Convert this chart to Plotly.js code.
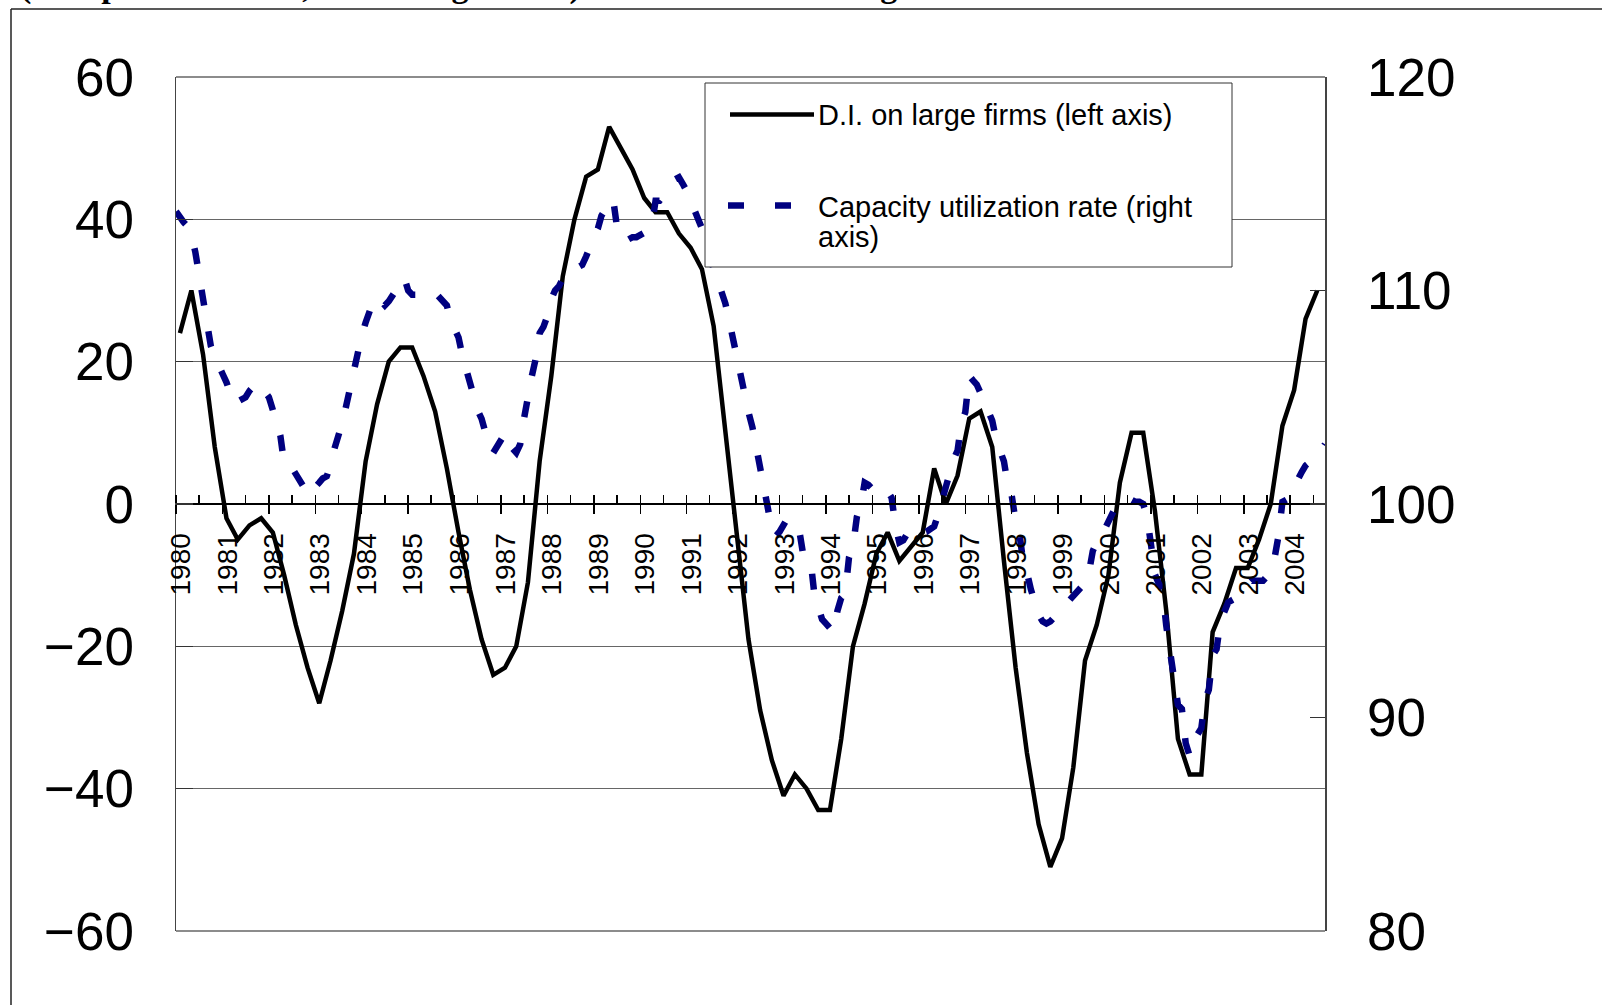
<!DOCTYPE html>
<html>
<head>
<meta charset="utf-8">
<script src="https://cdn.plot.ly/plotly-3.0.1.min.js"></script>
<style>
  html, body { margin: 0; padding: 0; background: #fff; }
  #plot { width: 1602px; height: 1005px; }
</style>
</head>
<body>
<div id="plot"></div>
<script>
// Tankan D.I. (large manufacturing firms), quarterly, Feb 1980 .. Aug 2004
let diStart = [1980, 2];
let diValues = [
  24, 30, 21, 8,        // 1980
  -2, -5, -3, -2,       // 1981
  -4, -10, -17, -23,    // 1982
  -28, -22, -15, -7,    // 1983
  6, 14, 20, 22,        // 1984
  22, 18, 13, 5,        // 1985
  -4, -12, -19, -24,    // 1986
  -23, -20, -11, 6,     // 1987
  18, 32, 40, 46,       // 1988
  47, 53, 50, 47,       // 1989
  43, 41, 41, 38,       // 1990
  36, 33, 25, 10,       // 1991
  -5, -19, -29, -36,    // 1992
  -41, -38, -40, -43,   // 1993
  -43, -33, -20, -14,   // 1994
  -7, -4, -8, -6,       // 1995
  -4, 5, 0, 4,          // 1996
  12, 13, 8, -8,        // 1997
  -23, -35, -45, -51,   // 1998
  -47, -37, -22, -17,   // 1999
  -10, 3, 10, 10,       // 2000
  -1, -15, -33, -38,    // 2001
  -38, -18, -14, -9,    // 2002
  -9, -5, 0, 11,        // 2003
  16, 26, 30            // 2004
];

// capacity utilization rate, monthly, Jan 1980 .. Oct 2004
let cuStart = [1980, 1];
let cuValues = [
  113.7, 113.4, 113.2, 113.0, 112.6, 111.8, 110.8, 109.6, 108.3, 107.4, 106.9, 106.4,  // 1980
  106.1, 105.7, 105.3, 104.7, 104.8, 104.9, 105.0, 105.3, 105.5, 105.7, 105.5, 105.3,  // 1981
  105.0, 104.4, 103.9, 103.2, 101.9, 101.8, 101.7, 101.4, 101.1, 100.8, 100.5, 100.4,  // 1982
  100.8, 101.0, 101.2, 101.3, 101.8, 102.6, 103.1, 103.8, 104.6, 105.4, 106.4, 107.2,  // 1983
  107.9, 108.5, 109.0, 109.5, 109.7, 109.5, 109.3, 109.5, 109.8, 110.0, 110.4, 110.6,  // 1984
  110.0, 109.8, 109.8, 109.9, 110.0, 110.0, 110.0, 109.9, 109.7, 109.6, 109.3, 108.6,  // 1985
  108.2, 107.8, 107.0, 106.3, 105.8, 105.0, 104.4, 104.0, 103.2, 102.7, 102.4, 102.7,  // 1986
  103.0, 103.3, 103.3, 102.6, 102.4, 102.8, 104.0, 105.2, 106.0, 106.8, 108.0, 108.3,  // 1987
  108.8, 109.6, 110.0, 110.2, 110.6, 110.9, 111.0, 111.0, 111.1, 111.2, 111.6, 112.1,  // 1988
  112.5, 112.9, 113.5, 113.8, 114.1, 114.3, 113.0, 112.5, 112.3, 112.4, 112.5, 112.5,  // 1989
  112.6, 112.7, 112.8, 113.0, 114.2, 114.2, 114.4, 114.6, 114.9, 115.2, 115.3, 115.0,  // 1990
  114.7, 114.3, 113.8, 113.4, 112.9, 112.3, 111.6, 111.0, 110.5, 110.0, 109.4, 108.6,  // 1991
  107.7, 106.7, 106.0, 105.0, 104.3, 103.6, 102.7, 102.0, 100.9, 99.8, 98.8, 98.5,     // 1992
  98.7, 99.1, 99.3, 99.2, 99.0, 98.9, 97.8, 97.6, 97.4, 95.8, 95.2, 94.6,              // 1993
  94.4, 94.2, 94.0, 95.0, 95.6, 95.8, 97.5, 98.0, 99.4, 99.9, 101.0, 100.9,            // 1994
  100.7, 100.5, 100.6, 100.7, 100.6, 100.3, 99.0, 98.2, 98.3, 98.6, 98.9, 98.8,        // 1995
  98.7, 98.65, 98.7, 98.8, 98.95, 99.5, 100.2, 100.8, 101.5, 102.1, 102.5, 103.8,      // 1996
  104.3, 106.0, 105.8, 105.6, 105.2, 104.7, 104.3, 103.9, 103.0, 102.4, 102.0, 100.9,  // 1997
  100.4, 99.2, 98.7, 97.3, 96.8, 96.0, 95.3, 94.8, 94.5, 94.4, 94.5, 94.7,             // 1998
  94.9, 95.1, 95.3, 95.5, 95.7, 95.9, 96.1, 96.3, 96.8, 97.8, 98.2, 98.4,              // 1999
  98.8, 99.2, 99.6, 99.9, 100.2, 100.2, 100.2, 100.2, 100.1, 100.1, 100.0, 99.4,       // 2000
  98.1, 96.7, 96.3, 96.0, 94.3, 93.0, 92.2, 90.6, 90.4, 88.8, 88.2, 88.5,              // 2001
  89.2, 89.5, 90.8, 91.3, 92.9, 93.2, 94.5, 95.0, 95.4, 95.5, 95.6, 95.9,              // 2002
  96.1, 96.3, 96.4, 96.4, 96.4, 96.4, 96.6, 96.8, 97.5, 98.5, 100.1, 100.2,            // 2003
  100.3, 100.8, 101.2, 101.5, 101.8, 102.0, 102.1, 102.2, 102.5, 102.8                 // 2004
];

let diName = 'D.I. on large firms (left axis)';
let cuNameLines = ['Capacity utilization rate (right', 'axis)'];
let headText = '(Comparative table, DI on large firms) in the manufacturing sector';

// page geometry
let W = 1602, H = 1005;
let M = { l: 176, r: 277, t: 77, b: 74 };
let PW = W - M.l - M.r;
let PH = H - M.t - M.b;
let px = x => (x - M.l) / PW;
let py = y => (H - M.b - y) / PH;

function monthDates(start, n, step) {
  let out = [];
  for (let i = 0; i < n; i++) {
    let m = (start[1] - 1) + i * step;
    let y = start[0] + Math.floor(m / 12);
    let mm = (m % 12) + 1;
    out.push(y + '-' + (mm < 10 ? '0' : '') + mm + '-01');
  }
  return out;
}

let diDates = monthDates(diStart, diValues.length, 3);
let cuDates = monthDates(cuStart, cuValues.length, 1);

let tickFont = { family: 'Liberation Sans, Arial, sans-serif', size: 53, color: '#000' };
let yearFont = { family: 'Liberation Sans, Arial, sans-serif', size: 28, color: '#000' };
let legendFont = { family: 'Liberation Sans, Arial, sans-serif', size: 29, color: '#000' };

let data = [
  {
    x: diDates, y: diValues, name: diName,
    type: 'scatter', mode: 'lines',
    line: { color: '#000000', width: 4.5 },
    hoverinfo: 'skip'
  },
  {
    x: cuDates, y: cuValues, name: cuNameLines.join(' '), yaxis: 'y2',
    type: 'scatter', mode: 'lines',
    line: { color: '#000080', width: 6.5, dash: '16px,26px' },
    hoverinfo: 'skip'
  }
];

let legendLabel = (text, y) => ({
  xref: 'paper', yref: 'paper', x: px(816), y: py(y),
  xanchor: 'left', yanchor: 'middle', text: text, showarrow: false, font: legendFont
});

let layout = {
  width: W, height: H,
  margin: M,
  paper_bgcolor: '#fff',
  plot_bgcolor: '#fff',
  showlegend: false,
  xaxis: {
    type: 'date',
    range: ['1980-01-01', '2004-10-01'],
    anchor: 'free', position: 0.5,
    tick0: '1980-01-01', dtick: 'M12', tickformat: '%Y',
    tickangle: -90,
    ticks: 'outside', ticklen: 9, tickwidth: 1.5, tickcolor: '#000',
    minor: { tick0: '1980-01-01', dtick: 'M6', ticks: 'inside', ticklen: 8, tickwidth: 1.5, tickcolor: '#000', showgrid: false },
    ticklabelstandoff: 8, ticklabelshift: 5,
    showline: true, linecolor: '#000', linewidth: 2,
    showgrid: false, zeroline: false,
    tickfont: yearFont
  },
  yaxis: {
    range: [-60, 60], dtick: 20, tick0: 0,
    ticks: 'inside', ticklen: 17, tickwidth: 1.5, tickcolor: '#333',
    showline: true, linecolor: '#444', linewidth: 1.5,
    showgrid: true, gridcolor: '#666', gridwidth: 1.2,
    zeroline: false,
    ticklabelstandoff: 30,
    tickfont: tickFont
  },
  yaxis2: {
    overlaying: 'y', side: 'right',
    range: [80, 120], dtick: 10, tick0: 80,
    ticks: 'inside', ticklen: 15, tickwidth: 1.5, tickcolor: '#333',
    showline: true, linecolor: '#444', linewidth: 1.5,
    showgrid: false, zeroline: false,
    ticklabelstandoff: 30,
    tickfont: tickFont
  },
  shapes: [
    // top and bottom edges of the plot area (the 60 / -60 grid lines)
    { type: 'line', xref: 'paper', yref: 'paper', layer: 'below', x0: 0, x1: 1, y0: 1, y1: 1, line: { color: '#666', width: 1.5 } },
    { type: 'line', xref: 'paper', yref: 'paper', layer: 'below', x0: 0, x1: 1, y0: 0, y1: 0, line: { color: '#666', width: 1.5 } },
    // outer frame of the page picture
    { type: 'line', xref: 'paper', yref: 'paper', x0: px(11), y0: py(9), x1: px(W), y1: py(9), line: { color: '#222', width: 1.5 } },
    { type: 'line', xref: 'paper', yref: 'paper', x0: px(11), y0: py(9), x1: px(11), y1: py(H), line: { color: '#222', width: 1.5 } },
    // legend box and samples
    { type: 'rect', xref: 'paper', yref: 'paper', layer: 'above', x0: px(705), x1: px(1232), y0: py(83), y1: py(267), fillcolor: '#fff', line: { color: '#333', width: 1 } },
    { type: 'line', xref: 'paper', yref: 'paper', layer: 'above', x0: px(730), x1: px(814), y0: py(114.5), y1: py(114.5), line: { color: '#000', width: 4.5 } },
    { type: 'line', xref: 'paper', yref: 'paper', layer: 'above', x0: px(728), x1: px(814), y0: py(205.5), y1: py(205.5), line: { color: '#000080', width: 6.5, dash: '16px,31px' } }
  ],
  annotations: [
    legendLabel(diName, 115),
    legendLabel(cuNameLines[0], 207),
    legendLabel(cuNameLines[1], 237),
    // heading of the source page, almost entirely above the top edge
    { xref: 'paper', yref: 'paper', x: px(18), y: py(7), xanchor: 'left', yanchor: 'bottom', text: '<b>' + headText + '</b>', showarrow: false,
      font: { family: 'Liberation Serif, Times New Roman, serif', size: 34, color: '#000' } }
  ]
};

Plotly.newPlot('plot', data, layout, { staticPlot: true, displayModeBar: false });
</script>
</body>
</html>
